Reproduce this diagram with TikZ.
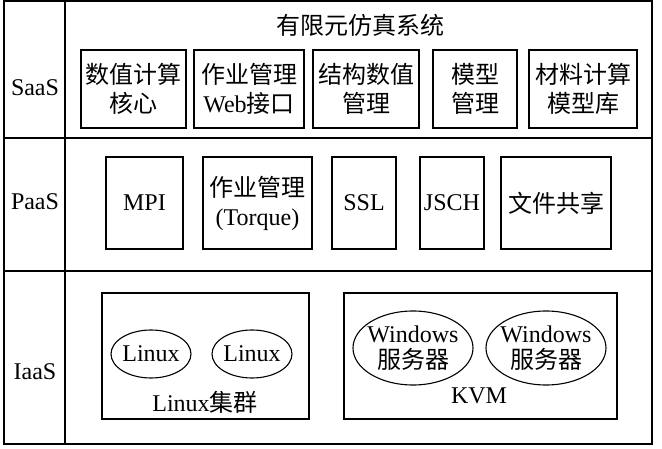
\documentclass[tikz,border=0pt]{standalone}
\usepackage{fontspec}
\setmainfont{Liberation Serif}
\newfontfamily\cjk{Noto Sans CJK SC}
\usetikzlibrary{shapes.geometric}
\begin{document}
\begin{tikzpicture}[x=1pt,y=-1pt,line width=1.1pt,
  txt/.style={inner sep=0pt,align=center,font=\fontsize{24}{29}\selectfont},
  compbox/.style={draw,txt},
  vmell/.style={draw,ellipse,inner sep=0pt},
  elltxt/.style={inner sep=0pt,align=center,font=\fontsize{24}{26}\selectfont}]
\useasboundingbox (0,0) rectangle (662,449);
% frame
\coordinate (tl) at (4,1);
\coordinate (br) at (652,444);
\draw (tl) rectangle (br);
\coordinate (c1) at (65,1);
\coordinate (c2) at (65,444);
\draw (c1) -- (c2);
\coordinate (r1a) at (4,138);
\coordinate (r1b) at (652,138);
\coordinate (r2a) at (4,271);
\coordinate (r2b) at (652,271);
\draw (r1a) -- (r1b);
\draw (r2a) -- (r2b);
% row labels
\node[txt] (saas) at (35,88) {SaaS};
\node[txt] (paas) at (35,202) {PaaS};
\node[txt] (iaas) at (35,372) {IaaS};
% SaaS
\node[txt] (title) at (360,25) {\cjk 有限元仿真系统};
\node[compbox,minimum width=105,minimum height=78] (s1) at (133.5,89) {\cjk 数值计算\\\cjk 核心};
\node[compbox,minimum width=110,minimum height=78] (s2) at (249,89) {\cjk 作业管理\\Web{\cjk 接口}};
\node[compbox,minimum width=106,minimum height=78] (s3) at (366,89) {\cjk 结构数值\\\cjk 管理};
\node[compbox,minimum width=84,minimum height=78] (s4) at (475,89) {\cjk 模型\\\cjk 管理};
\node[compbox,minimum width=108,minimum height=78] (s5) at (583,89) {\cjk 材料计算\\\cjk 模型库};
% PaaS
\node[compbox,minimum width=77,minimum height=92] (p1) at (144.5,203) {MPI};
\node[compbox,minimum width=109,minimum height=92] (p2) at (257.5,203) {\cjk 作业管理\\(Torque)};
\node[compbox,minimum width=64,minimum height=92] (p3) at (364,203) {SSL};
\node[compbox,minimum width=64,minimum height=92] (p4) at (452,203) {JSCH};
\node[compbox,minimum width=110,minimum height=92] (p5) at (556,203) {\cjk 文件共享};
% IaaS
\node[draw,minimum width=207,minimum height=126,inner sep=0pt] (lc) at (205.5,356) {};
\node[draw,minimum width=273,minimum height=126,inner sep=0pt] (kvm) at (480.5,356) {};
\node[vmell,minimum width=80,minimum height=48] (l1) at (151,354) {};
\node[elltxt] (l1t) at (l1.center) {Linux};
\node[vmell,minimum width=80,minimum height=48] (l2) at (252,354) {};
\node[elltxt] (l2t) at (l2.center) {Linux};
\node[txt] (lct) at (205,402) {Linux{\cjk 集群}};
\node[vmell,minimum width=120,minimum height=74] (w1) at (413,348) {};
\node[elltxt] (w1t) at (w1.center) {Windows\\\cjk 服务器};
\node[vmell,minimum width=120,minimum height=74] (w2) at (546,348) {};
\node[elltxt] (w2t) at (w2.center) {Windows\\\cjk 服务器};
\node[txt] (kvmt) at (479,396) {KVM};
\end{tikzpicture}
\end{document}
